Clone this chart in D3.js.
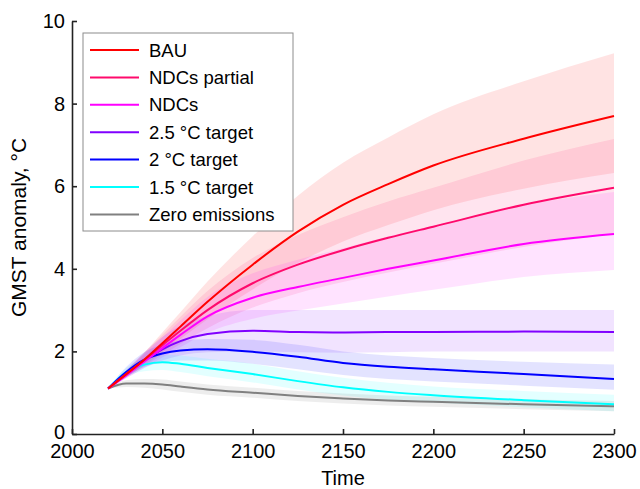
<!DOCTYPE html>
<html>
<head>
<meta charset="utf-8">
<script src="https://cdn.jsdelivr.net/npm/d3@7"></script>
<style>
  body { margin: 0; background: #fff; }
  text { font-family: "Liberation Sans", Arial, sans-serif; fill: #000; }
</style>
</head>
<body>
<div id="chart"></div>
<script>
// Years sampled from the figure
const years = [2020, 2030, 2040, 2050, 2060, 2075, 2100, 2125, 2150, 2175, 2200, 2250, 2300];

const bauMean = [1.1, 1.45, 1.8, 2.2, 2.6, 3.2, 4.1, 4.9, 5.55, 6.05, 6.5, 7.15, 7.7];
const bauHi   = [1.1, 1.53, 1.97, 2.46, 2.95, 3.69, 4.79, 5.77, 6.57, 7.18, 7.74, 8.54, 9.22];
const bauLo   = [1.1, 1.38, 1.66, 1.98, 2.3, 2.78, 3.5, 4.14, 4.66, 5.06, 5.42, 5.94, 6.32];

const ndcpMean = [1.1, 1.45, 1.8, 2.15, 2.5, 3.0, 3.65, 4.1, 4.45, 4.75, 5.02, 5.55, 5.96];
const ndcpHi   = [1.1, 1.53, 1.97, 2.4, 2.84, 3.46, 4.26, 4.82, 5.25, 5.63, 5.96, 6.62, 7.14];
const ndcpLo   = [1.1, 1.37, 1.64, 1.91, 2.18, 2.56, 3.06, 3.41, 3.68, 3.91, 4.12, 4.53, 4.85];

const ndcMean = [1.1, 1.42, 1.75, 2.08, 2.4, 2.85, 3.3, 3.56, 3.78, 4.0, 4.2, 4.6, 4.84];
const ndcHi   = [1.1, 1.51, 1.93, 2.34, 2.75, 3.32, 3.89, 4.22, 4.5, 4.78, 5.04, 5.55, 5.86];
const ndcLo   = [1.1, 1.35, 1.6, 1.85, 2.1, 2.45, 2.79, 2.99, 3.16, 3.33, 3.49, 3.8, 3.97];

const t25Mean = [1.1, 1.45, 1.78, 2.05, 2.25, 2.42, 2.5, 2.47, 2.46, 2.47, 2.47, 2.48, 2.47];
const t25Hi   = [1.1, 1.55, 1.98, 2.35, 2.62, 2.85, 3.0, 3.0, 3.0, 3.0, 3.0, 3.0, 3.0];
const t25Lo   = [1.1, 1.35, 1.6, 1.78, 1.9, 1.98, 2.0, 1.98, 1.97, 1.98, 2.0, 2.0, 2.0];

const t2Mean = [1.1, 1.5, 1.8, 1.95, 2.02, 2.05, 1.99, 1.87, 1.72, 1.63, 1.57, 1.45, 1.33];
const t2Hi   = [1.1, 1.62, 1.98, 2.17, 2.25, 2.3, 2.28, 2.16, 2.0, 1.9, 1.84, 1.75, 1.68];
const t2Lo   = [1.1, 1.38, 1.62, 1.73, 1.78, 1.78, 1.7, 1.57, 1.43, 1.33, 1.27, 1.17, 1.07];

const t15Mean = [1.1, 1.5, 1.68, 1.74, 1.7, 1.6, 1.45, 1.28, 1.13, 1.02, 0.94, 0.82, 0.72];
const t15Hi   = [1.1, 1.6, 1.82, 1.92, 1.9, 1.82, 1.7, 1.52, 1.36, 1.24, 1.15, 1.04, 0.95];
const t15Lo   = [1.1, 1.4, 1.52, 1.55, 1.5, 1.4, 1.25, 1.08, 0.93, 0.83, 0.76, 0.65, 0.55];

const zeroMean = [1.1, 1.22, 1.22, 1.2, 1.15, 1.08, 1.0, 0.92, 0.86, 0.81, 0.78, 0.72, 0.67];
const zeroHi   = [1.1, 1.3, 1.33, 1.32, 1.27, 1.2, 1.12, 1.04, 0.98, 0.93, 0.9, 0.84, 0.8];
const zeroLo   = [1.1, 1.14, 1.12, 1.08, 1.02, 0.95, 0.88, 0.8, 0.74, 0.69, 0.66, 0.6, 0.55];

const names = ['BAU', 'NDCs partial', 'NDCs', '2.5 °C target', '2 °C target', '1.5 °C target', 'Zero emissions'];
const colours = ['#ff0000', '#ff0a6c', '#ff00ff', '#8000ff', '#0000ff', '#00ffff', '#808080'];
const means = [bauMean, ndcpMean, ndcMean, t25Mean, t2Mean, t15Mean, zeroMean];
const highs = [bauHi, ndcpHi, ndcHi, t25Hi, t2Hi, t15Hi, zeroHi];
const lows = [bauLo, ndcpLo, ndcLo, t25Lo, t2Lo, t15Lo, zeroLo];

const xTicks = [2000, 2050, 2100, 2150, 2200, 2250, 2300];
const yTicks = [0, 2, 4, 6, 8, 10];

const width = 640, height = 489;
const margin = { top: 21, right: 26, bottom: 55, left: 72 };

const svg = d3.select('#chart').append('svg')
  .attr('width', width)
  .attr('height', height);

const x = d3.scaleLinear().domain([2000, 2300]).range([margin.left, width - margin.right]);
const y = d3.scaleLinear().domain([0, 10]).range([height - margin.bottom, margin.top]);

const series = names.map((name, i) => ({
  name,
  colour: colours[i],
  points: years.map((yr, j) => ({ year: yr, mean: means[i][j], hi: highs[i][j], lo: lows[i][j] }))
}));

const area = d3.area()
  .x(d => x(d.year))
  .y0(d => y(d.lo))
  .y1(d => y(d.hi))
  .curve(d3.curveMonotoneX);

const line = d3.line()
  .x(d => x(d.year))
  .y(d => y(d.mean))
  .curve(d3.curveMonotoneX);

// Uncertainty bands
svg.append('g').selectAll('path')
  .data(series)
  .join('path')
  .attr('d', d => area(d.points))
  .attr('fill', d => d.colour)
  .attr('fill-opacity', (d, i) => i === 6 ? 0.14 : 0.11);

// Mean lines, BAU drawn last so it sits on top
svg.append('g').selectAll('path')
  .data(series.slice().reverse())
  .join('path')
  .attr('d', d => line(d.points))
  .attr('fill', 'none')
  .attr('stroke', d => d.colour)
  .attr('stroke-width', 2);

// Axes, ticks pointing inwards
const xAxis = svg.append('g')
  .attr('transform', `translate(0,${y(0)})`)
  .call(d3.axisBottom(x).tickValues(xTicks).tickFormat(d3.format('d'))
    .tickSizeInner(-5).tickSizeOuter(0).tickPadding(10));

const yAxis = svg.append('g')
  .attr('transform', `translate(${x(2000)},0)`)
  .call(d3.axisLeft(y).tickValues(yTicks).tickSizeInner(-5).tickSizeOuter(0).tickPadding(7));

[xAxis, yAxis].forEach(a => {
  a.selectAll('path, line').attr('stroke', '#222').attr('stroke-width', 1.6);
  a.selectAll('text').attr('font-size', 20).attr('font-family', '"Liberation Sans", Arial, sans-serif').attr('fill', '#000');
});

// nudge the "0" label up a touch so it clears "2000"
yAxis.selectAll('.tick text').filter(d => d === 0).attr('dy', '0.2em');

svg.append('text')
  .attr('x', x(2150))
  .attr('y', 485)
  .attr('text-anchor', 'middle')
  .attr('font-size', 20)
  .text('Time');

svg.append('text')
  .attr('transform', `translate(26,${(y(0) + y(10)) / 2}) rotate(-90)`)
  .attr('text-anchor', 'middle')
  .attr('font-size', 21)
  .text('GMST anomaly, °C');

// Legend
const legend = svg.append('g').attr('transform', 'translate(83,33)');

legend.append('rect')
  .attr('width', 210)
  .attr('height', 198)
  .attr('fill', '#fff')
  .attr('stroke', '#8c8c8c')
  .attr('stroke-width', 1);

const rows = legend.selectAll('.row')
  .data(series)
  .join('g')
  .attr('class', 'row')
  .attr('transform', (d, i) => `translate(0,${17 + i * 27.4})`);

rows.append('line')
  .attr('x1', 7)
  .attr('x2', 56)
  .attr('stroke', d => d.colour)
  .attr('stroke-width', 2);

rows.append('text')
  .attr('x', 66)
  .attr('dy', '0.36em')
  .attr('font-size', 18.5)
  .text(d => d.name);
</script>
</body>
</html>
